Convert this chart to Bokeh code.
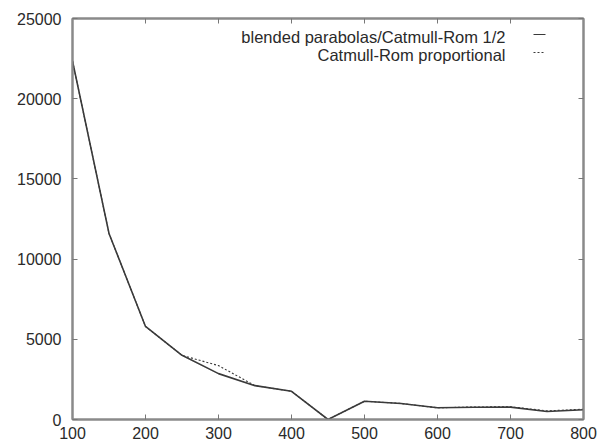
from bokeh.plotting import figure
from bokeh.models import Range1d, LinearAxis, FixedTicker, Label, Arrow
from bokeh.embed import file_html
from bokeh.resources import INLINE

# data
x_vals = [100, 150, 200, 250, 300, 350, 400, 450, 500, 550, 600, 650, 700, 750, 800]
blended = [22350, 11600, 5800, 4000, 2860, 2110, 1760, 0, 1140, 1000, 730, 760, 770, 500, 610]
catmull_prop = [22350, 11600, 5800, 4000, 3360, 2110, 1760, 0, 1140, 1000, 730, 780, 790, 540, 640]
series_names = ["blended parabolas/Catmull-Rom 1/2", "Catmull-Rom proportional"]
x_ticks = [100, 200, 300, 400, 500, 600, 700, 800]
y_ticks = [0, 5000, 10000, 15000, 20000, 25000]

FONT = "Liberation Sans"
FRAME_C = "#8a8a8a"
LINE_C = "#3a3a3a"
TEXT_C = "#2a2a2a"

p = figure(width=609, height=445, output_backend="svg", toolbar_location=None,
           x_range=Range1d(100, 800), y_range=Range1d(0, 25000),
           min_border_left=72, min_border_right=26, min_border_top=18, min_border_bottom=26,
           x_axis_type=None, y_axis_type=None)
p.grid.visible = False
p.outline_line_color = FRAME_C
p.outline_line_width = 2
p.background_fill_color = "white"
p.border_fill_color = "white"

def style_axis(ax, ticks, show_labels, standoff):
    ax.ticker = FixedTicker(ticks=ticks)
    ax.axis_line_color = FRAME_C
    ax.axis_line_width = 2
    ax.major_tick_in = 5
    ax.major_tick_out = 0
    ax.major_tick_line_color = "#777777"
    ax.major_tick_line_width = 1
    ax.minor_tick_line_color = None
    ax.major_label_standoff = standoff
    if show_labels:
        ax.major_label_text_font = FONT
        ax.major_label_text_font_size = "16px"
        ax.major_label_text_color = TEXT_C
    else:
        ax.major_label_text_font_size = "1px"
        ax.major_label_text_alpha = 0
        ax.major_label_standoff = 0

xb = LinearAxis(); style_axis(xb, x_ticks, True, 7); p.add_layout(xb, "below")
yl = LinearAxis(); style_axis(yl, y_ticks, True, 11); p.add_layout(yl, "left")
xt = LinearAxis(); style_axis(xt, x_ticks, False, 0); p.add_layout(xt, "above")
yr = LinearAxis(); style_axis(yr, y_ticks, False, 0); p.add_layout(yr, "right")

p.line(x_vals, catmull_prop, line_color=LINE_C, line_width=1.1, line_dash="2 2")
p.line(x_vals, blended, line_color=LINE_C, line_width=1.6)

# gnuplot-style key: right-aligned text followed by a short sample
key_y = [383, 365]
key_dash = ["solid", "2 2"]
for name, ky, dash in zip(series_names, key_y, key_dash):
    p.add_layout(Label(x=433, y=ky, x_units="screen", y_units="screen", text=name,
                       text_align="right", text_baseline="middle",
                       text_font=FONT, text_font_size="16.5px", text_color=TEXT_C))
    p.add_layout(Arrow(x_start=461, y_start=ky + 2, x_end=473, y_end=ky + 2,
                       start_units="screen", end_units="screen", start=None, end=None,
                       line_color=LINE_C, line_width=1, line_dash=dash))

open("out.html", "w").write(file_html(p, INLINE))
